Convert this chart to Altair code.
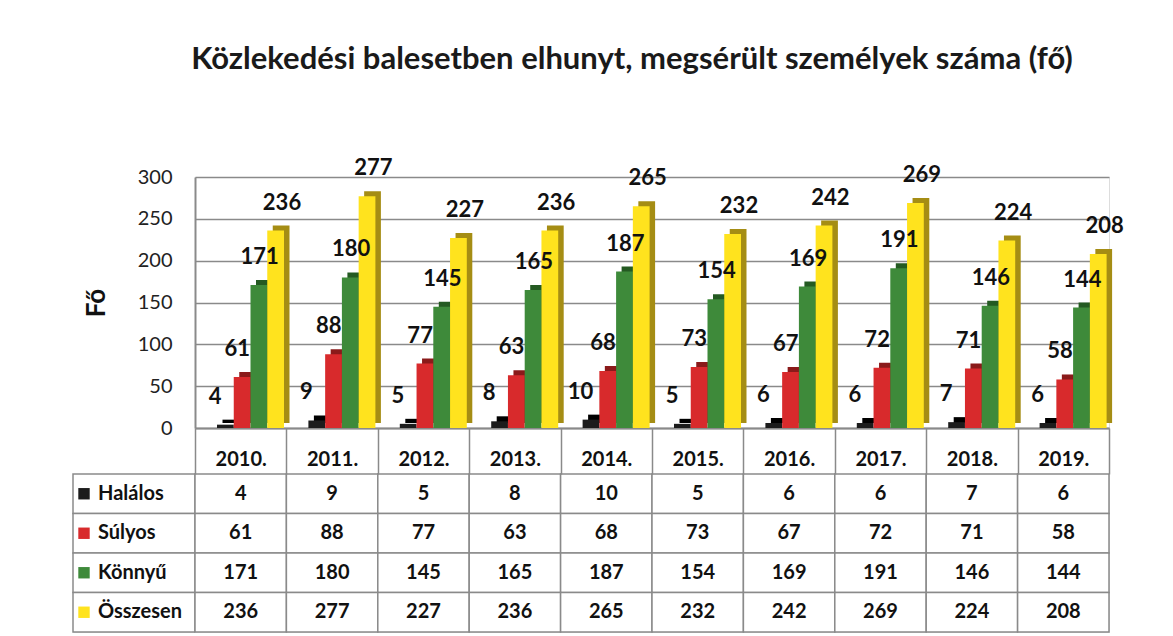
import altair as alt
import pandas as pd

# ---- data ----
years = ["2010.", "2011.", "2012.", "2013.", "2014.", "2015.", "2016.", "2017.", "2018.", "2019."]
series = ["Halálos", "Súlyos", "Könnyű", "Összesen"]
halalos = [4, 9, 5, 8, 10, 5, 6, 6, 7, 6]
sulyos = [61, 88, 77, 63, 68, 73, 67, 72, 71, 58]
konnyu = [171, 180, 145, 165, 187, 154, 169, 191, 146, 144]
osszesen = [236, 277, 227, 236, 265, 232, 242, 269, 224, 208]
y_ticks = [0, 50, 100, 150, 200, 250, 300]
title_text = "Közlekedési balesetben elhunyt, megsérült személyek száma (fő)"
y_title = "Fő"

# ---- styles ----
FONT = "Lato"
front_colors = ["#1c1c1c", "#d82a2c", "#3e8a3a", "#ffe31e"]
side_colors = ["#000000", "#8a1a1a", "#245a22", "#a58d14"]
GRID = "#8a8a8a"
INK = "#111111"

rows = []
for name, vals in zip(series, [halalos, sulyos, konnyu, osszesen]):
    for yr, v in zip(years, vals):
        rows.append({"ev": yr, "sorozat": name, "ertek": v})
df = pd.DataFrame(rows)
lab_df = pd.DataFrame({"sorozat": series})

W_TABLE = 914
W_LABEL = 122
H_BARS = 251
H_TABLE = 158
FRONT_RANGE = [22, 89]      # sub-band span of the front faces inside each year column
DEPTH_RANGE = [27.5, 94.5]  # side faces, shifted right

# ---- 3D-like grouped bars ----
base = alt.Chart(df)
x_bar = alt.X("ev:N", sort=years,
              scale=alt.Scale(domain=years, paddingInner=0, paddingOuter=0),
              axis=alt.Axis(title=None, labels=False, ticks=False, grid=False,
                            domainColor=GRID, domainWidth=2))


def xo(rng):
    return alt.XOffset("sorozat:N", sort=series,
                       scale=alt.Scale(domain=series, range=rng, paddingInner=0, paddingOuter=0))


y_bar = alt.Y("ertek:Q",
              scale=alt.Scale(domain=[0, 300], nice=False),
              axis=alt.Axis(values=y_ticks, title=y_title, titleFont=FONT, titleFontSize=26,
                            titleFontWeight="bold", titleColor=INK, titlePadding=28,
                            labelFont=FONT, labelFontSize=20, labelColor="#222222",
                            labelPadding=23, ticks=False, domainColor=GRID, domainWidth=2,
                            grid=True, gridColor=GRID, gridWidth=1.5))

depth = base.mark_bar(yOffset=-5).encode(
    x=x_bar, xOffset=xo(DEPTH_RANGE), y=y_bar,
    color=alt.Color("sorozat:N", scale=alt.Scale(domain=series, range=side_colors), legend=None),
)
front = base.mark_bar().encode(
    x=x_bar, xOffset=xo(FRONT_RANGE), y=y_bar,
    color=alt.Color("sorozat:N", scale=alt.Scale(domain=series, range=front_colors), legend=None),
)
value_labels = base.mark_text(dx=-2, dy=-28, font=FONT, fontSize=22, fontWeight="bold",
                              color=INK).encode(
    x=x_bar, xOffset=xo(FRONT_RANGE), y=y_bar, text="ertek:Q"
)
bars = alt.layer(depth, front, value_labels).resolve_scale(
    color="independent", xOffset="independent"
).properties(width=W_TABLE, height=H_BARS)

spacer = alt.Chart(pd.DataFrame({"v": [0]})).mark_text(text="").properties(
    width=W_LABEL, height=H_BARS
)

# ---- data table ----
y_row = alt.Y("sorozat:N", sort=series,
              scale=alt.Scale(domain=series, paddingInner=0, paddingOuter=0), axis=None)
x_tab = alt.X("ev:N", sort=years,
              scale=alt.Scale(domain=years, paddingInner=0, paddingOuter=0),
              axis=alt.Axis(orient="top", title=None, labelAngle=0, labelFont=FONT,
                            labelFontSize=20, labelFontWeight="bold", labelColor=INK,
                            tickBand="extent", tickSize=46, tickColor=GRID, tickWidth=1.5,
                            domain=False, labelPadding=-41, grid=False))
tbase = alt.Chart(df)
cells = tbase.mark_rect(fill="white", stroke=GRID, strokeWidth=1.5).encode(x=x_tab, y=y_row)
cell_text = tbase.mark_text(font=FONT, fontSize=20, fontWeight="bold", color=INK).encode(
    x=x_tab, y=y_row, text="ertek:Q"
)
table = alt.layer(cells, cell_text).properties(width=W_TABLE, height=H_TABLE)

lbase = alt.Chart(lab_df)
lab_cells = lbase.mark_rect(fill="white", stroke=GRID, strokeWidth=1.5).encode(y=y_row)
lab_sq = lbase.mark_square(size=130, opacity=1, xOffset=-50).encode(
    y=y_row,
    color=alt.Color("sorozat:N", scale=alt.Scale(domain=series, range=front_colors), legend=None),
)
lab_text = lbase.mark_text(align="left", dx=-36, font=FONT, fontSize=20, fontWeight="bold",
                           color=INK).encode(y=y_row, text="sorozat:N")
row_labels = alt.layer(lab_cells, lab_sq, lab_text).properties(width=W_LABEL, height=H_TABLE)

chart = alt.concat(
    spacer, bars, row_labels, table,
    columns=2, spacing={"row": 46, "column": 0}, bounds="flush",
    title=alt.TitleParams(title_text, font=FONT, fontSize=31, fontWeight="bold", color="#1a1a1a",
                          anchor="middle", dx=34, offset=81),
).resolve_scale(color="independent").properties(
    padding={"left": 63, "top": 35, "right": 10, "bottom": 0}
).configure_view(stroke="transparent").configure(background="white")

chart.save("out.html", embed_options={"renderer": "svg", "actions": False})
